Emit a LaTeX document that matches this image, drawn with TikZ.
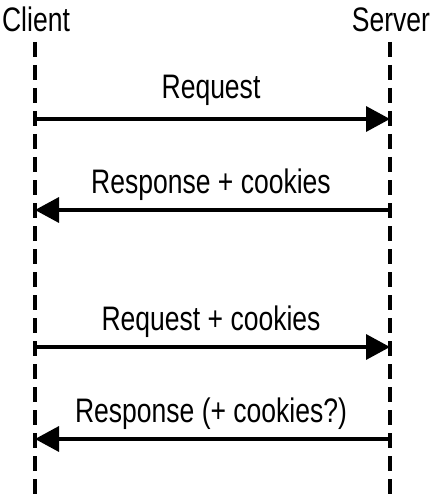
\documentclass[tikz,border=0pt]{standalone}
\usepackage{fontspec}
\setmainfont[FakeStretch=0.78]{Liberation Sans}
\usetikzlibrary{arrows.meta}
\begin{document}
\begin{tikzpicture}[x=1pt,y=-1pt,
  lbl/.style={font=\fontsize{34}{40}\selectfont, anchor=base, inner sep=0pt},
  lifeline/.style={line width=4pt, dash pattern=on 15pt off 8pt},
  msg/.style={line width=3.5pt, -{Triangle[length=24pt,width=25pt]}}]
\useasboundingbox (0,0) rectangle (431,497);
\node[lbl] (cl) at (36,32) {Client};
\node[lbl] (sv) at (391,32) {Server};
\coordinate (clt) at (35,42);
\coordinate (clb) at (35,500);
\coordinate (svt) at (390,42);
\coordinate (svb) at (390,500);
\draw[lifeline] (clt) -- (clb);
\draw[lifeline] (svt) -- (svb);
\coordinate (c1) at (35,119);
\coordinate (s1) at (390,119);
\coordinate (c2) at (35,210);
\coordinate (s2) at (390,210);
\coordinate (c3) at (35,347);
\coordinate (s3) at (390,347);
\coordinate (c4) at (35,439);
\coordinate (s4) at (390,439);
\draw[msg] (c1) -- (s1);
\draw[msg] (s2) -- (c2);
\draw[msg] (c3) -- (s3);
\draw[msg] (s4) -- (c4);
\node[lbl] (l1) at (211,99) {Request};
\node[lbl] (l2) at (211,193) {Response + cookies};
\node[lbl] (l3) at (211,330) {Request + cookies};
\node[lbl] (l4) at (211,422) {Response (+ cookies?)};
\end{tikzpicture}
\end{document}
